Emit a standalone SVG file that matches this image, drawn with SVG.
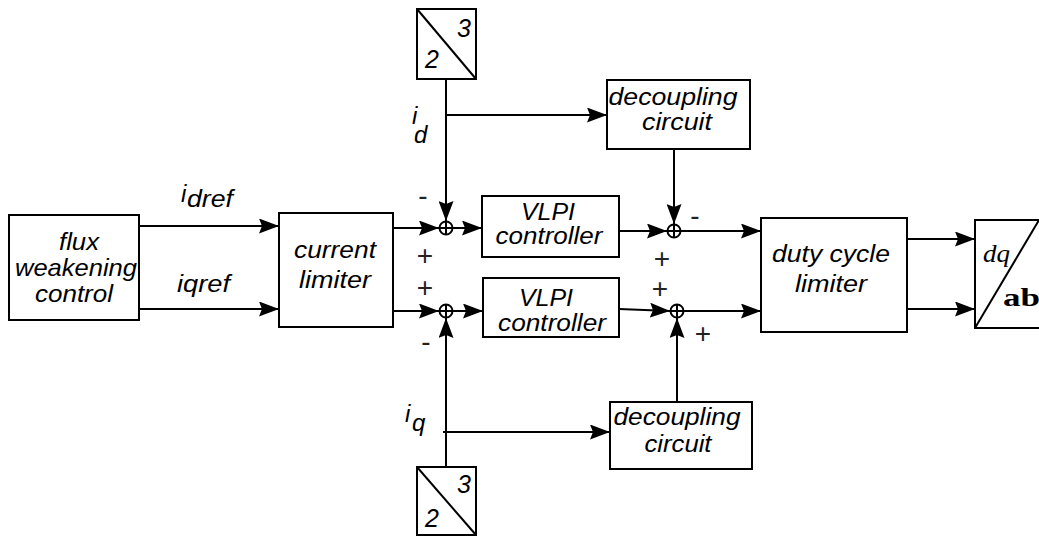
<svg xmlns="http://www.w3.org/2000/svg" width="1039" height="537" viewBox="0 0 1039 537">
<style>
.box{fill:#fff;stroke:#000;stroke-width:2}
.ln{fill:none;stroke:#000;stroke-width:2}
.lbl{font-family:"Liberation Sans",Arial,sans-serif;font-style:italic;font-size:24px;fill:#000;text-anchor:middle}
.sub{font-family:"Liberation Sans",Arial,sans-serif;font-style:italic;font-size:24px;fill:#000}
.sign{font-family:"Liberation Sans",Arial,sans-serif;font-size:28px;fill:#222;text-anchor:middle}
.sum circle{fill:#fff;stroke:#000;stroke-width:2}
</style>
<defs>
<marker id="arr" markerUnits="userSpaceOnUse" markerWidth="20" markerHeight="15" refX="20" refY="7.5" orient="auto">
<path d="M0,0 L20,7.5 L0,15 L3,7.5 z" fill="#000"/>
</marker>
</defs>

<g id="connectors" class="ln" marker-end="url(#arr)">
<line x1="139" y1="226" x2="279" y2="226"/>
<line x1="139" y1="309" x2="279" y2="309"/>
<line x1="391" y1="228" x2="439" y2="228"/>
<line x1="453" y1="228" x2="482" y2="228"/>
<line x1="391" y1="311" x2="439" y2="311"/>
<line x1="453" y1="311" x2="483" y2="311"/>
<line x1="619" y1="231" x2="667" y2="231"/>
<line x1="681" y1="231" x2="761" y2="231"/>
<line x1="619" y1="309" x2="670" y2="311"/>
<line x1="684" y1="311" x2="761" y2="311"/>
<line x1="907" y1="239" x2="975" y2="239"/>
<line x1="907" y1="309" x2="975" y2="309"/>
<line x1="446" y1="79" x2="446" y2="221"/>
<line x1="446" y1="115" x2="607" y2="115"/>
<line x1="674" y1="149" x2="674" y2="224"/>
<line x1="446" y1="467" x2="446" y2="318"/>
<line x1="443" y1="432" x2="610" y2="432"/>
<line x1="677" y1="402" x2="677" y2="318"/>
</g>

<g id="flux-weakening">
<rect class="box" x="9" y="215" width="130" height="105"/>
<text class="lbl" x="79" y="250" textLength="40" lengthAdjust="spacingAndGlyphs">flux</text>
<text class="lbl" x="76" y="276" textLength="122" lengthAdjust="spacingAndGlyphs">weakening</text>
<text class="lbl" x="74" y="302" textLength="78" lengthAdjust="spacingAndGlyphs">control</text>
</g>

<g id="label-idref"><text class="sub" x="181" y="202">i<tspan dy="5" x="187" textLength="46" lengthAdjust="spacingAndGlyphs">dref</tspan></text></g>
<g id="label-iqref"><text class="sub" x="177" y="292" textLength="53" lengthAdjust="spacingAndGlyphs">iqref</text></g>

<g id="current-limiter">
<rect class="box" x="279" y="213" width="114" height="114"/>
<text class="lbl" x="335" y="258" textLength="82" lengthAdjust="spacingAndGlyphs">current</text>
<text class="lbl" x="335" y="288" textLength="72" lengthAdjust="spacingAndGlyphs">limiter</text>
</g>

<g id="sum1" class="sum"><circle cx="446" cy="228" r="6.5"/><path class="ln" d="M439.5,228 H452.5 M446,221.5 V234.5"/></g>
<g id="sum1b" class="sum"><circle cx="446" cy="311" r="6.5"/><path class="ln" d="M439.5,311 H452.5 M446,304.5 V317.5"/></g>
<g id="sum2" class="sum"><circle cx="674" cy="231" r="6.5"/><path class="ln" d="M667.5,231 H680.5 M674,224.5 V237.5"/></g>
<g id="sum3" class="sum"><circle cx="677" cy="311" r="6.5"/><path class="ln" d="M670.5,311 H683.5 M677,304.5 V317.5"/></g>

<g id="vlpi1">
<rect class="box" x="482" y="196" width="137" height="61"/>
<text class="lbl" x="548" y="220" textLength="54" lengthAdjust="spacingAndGlyphs">VLPI</text>
<text class="lbl" x="549" y="244" textLength="107" lengthAdjust="spacingAndGlyphs">controller</text>
</g>
<g id="vlpi2">
<rect class="box" x="483" y="278" width="136" height="59"/>
<text class="lbl" x="546" y="306" textLength="54" lengthAdjust="spacingAndGlyphs">VLPI</text>
<text class="lbl" x="552" y="331" textLength="108" lengthAdjust="spacingAndGlyphs">controller</text>
</g>

<g id="decoupling1">
<rect class="box" x="607" y="80" width="143" height="69"/>
<text class="lbl" x="673" y="105" textLength="129" lengthAdjust="spacingAndGlyphs">decoupling</text>
<text class="lbl" x="677" y="130" textLength="70" lengthAdjust="spacingAndGlyphs">circuit</text>
</g>
<g id="decoupling2">
<rect class="box" x="610" y="402" width="142" height="67"/>
<text class="lbl" x="677" y="425" textLength="127" lengthAdjust="spacingAndGlyphs">decoupling</text>
<text class="lbl" x="678" y="452" textLength="67" lengthAdjust="spacingAndGlyphs">circuit</text>
</g>

<g id="duty-cycle-limiter">
<rect class="box" x="761" y="218" width="146" height="114"/>
<text class="lbl" x="831" y="262" textLength="118" lengthAdjust="spacingAndGlyphs">duty cycle</text>
<text class="lbl" x="831" y="292" textLength="72" lengthAdjust="spacingAndGlyphs">limiter</text>
</g>

<g id="dq-abc">
<rect class="box" x="975" y="220" width="80" height="108"/>
<line class="ln" x1="975" y1="328" x2="1039" y2="220"/>
<text x="983" y="262" font-family="'Liberation Serif','Times New Roman',serif" font-style="italic" font-size="25" textLength="27" lengthAdjust="spacingAndGlyphs">dq</text>
<text x="1003" y="306" font-family="'Liberation Serif','Times New Roman',serif" font-weight="bold" font-size="26" textLength="37" lengthAdjust="spacingAndGlyphs">ab</text>
</g>

<g id="t32-top">
<rect class="box" x="417" y="9" width="59" height="70"/>
<line class="ln" x1="417" y1="9" x2="476" y2="79"/>
<text class="lbl" x="464" y="37" style="font-size:25px">3</text>
<text class="lbl" x="432" y="68" style="font-size:25px">2</text>
</g>
<g id="t32-bottom">
<rect class="box" x="417" y="467" width="59" height="68"/>
<line class="ln" x1="417" y1="467" x2="476" y2="535"/>
<text class="lbl" x="464" y="493" style="font-size:25px">3</text>
<text class="lbl" x="432" y="527" style="font-size:25px">2</text>
</g>

<g id="label-id"><text class="sub" x="412" y="124">i</text><text class="sub" x="414" y="143">d</text></g>
<g id="label-iq"><text class="sub" x="405" y="422">i</text><text class="sub" x="412" y="431">q</text></g>

<g id="signs">
<text class="sign" x="423" y="205">-</text>
<text class="sign" x="425" y="265">+</text>
<text class="sign" x="425" y="297">+</text>
<text class="sign" x="426" y="351">-</text>
<text class="sign" x="695" y="225">-</text>
<text class="sign" x="662" y="268">+</text>
<text class="sign" x="660" y="298">+</text>
<text class="sign" x="703" y="343">+</text>
</g>
</svg>
